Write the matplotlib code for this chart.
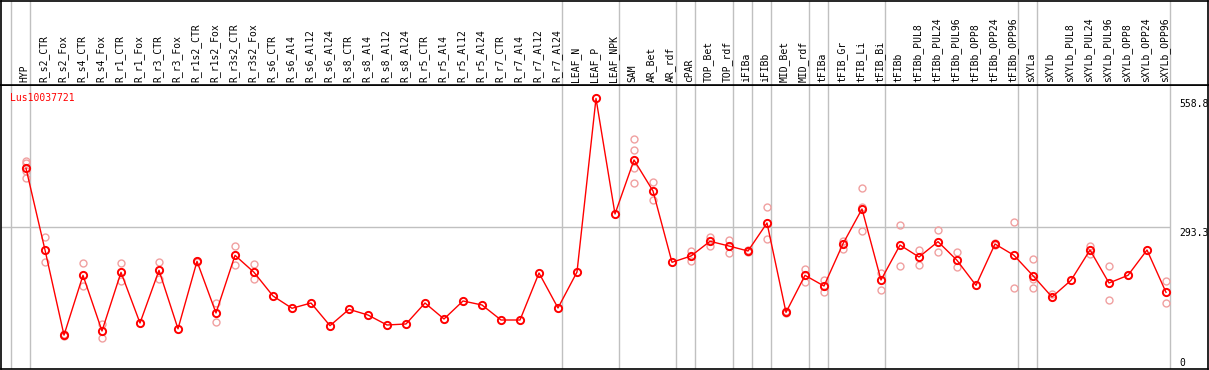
import matplotlib
matplotlib.use("Agg")
import matplotlib.pyplot as plt

# Muestras (columnas) del perfil de expresión
samples = ["HYP", "R_s2_CTR", "R_s2_Fox", "R_s4_CTR", "R_s4_Fox", "R_r1_CTR", "R_r1_Fox",
           "R_r3_CTR", "R_r3_Fox", "R_r1s2_CTR", "R_r1s2_Fox", "R_r3s2_CTR", "R_r3s2_Fox",
           "R_s6_CTR", "R_s6_Al4", "R_s6_Al12", "R_s6_Al24", "R_s8_CTR", "R_s8_Al4",
           "R_s8_Al12", "R_s8_Al24", "R_r5_CTR", "R_r5_Al4", "R_r5_Al12", "R_r5_Al24",
           "R_r7_CTR", "R_r7_Al4", "R_r7_Al12", "R_r7_Al24", "LEAF_N", "LEAF_P", "LEAF_NPK",
           "SAM", "AR_Bet", "AR_rdf", "cPAR", "TOP_Bet", "TOP_rdf", "iFIBa", "iFIBb",
           "MID_Bet", "MID_rdf", "tFIBa", "tFIB_Gr", "tFIB_Li", "tFIB_Bi", "tFIBb",
           "tFIBb_PUL8", "tFIBb_PUL24", "tFIBb_PUL96", "tFIBb_OPP8", "tFIBb_OPP24",
           "tFIBb_OPP96", "sXYLa", "sXYLb", "sXYLb_PUL8", "sXYLb_PUL24", "sXYLb_PUL96",
           "sXYLb_OPP8", "sXYLb_OPP24", "sXYLb_OPP96"]

# Valor medio por muestra
mean_vals = [414.5, 245.8, 70, 193.5, 78.5, 199.7, 95, 203.8, 83, 222.4, 115.7, 234.8, 199.7,
             150.8, 125.4, 136.3, 89.5, 123.3, 111.5, 90.9, 93, 136.3, 103.3, 140.5, 132.2,
             101.2, 101.2, 198.3, 126, 200.4, 558.8, 320.2,
             431.7, 367.7, 220.4, 233.4, 263.8, 254, 243.7, 301.6,
             117, 193.5, 171.4, 258.8, 330.5, 183.8, 256,
             231.3, 263, 224.5, 172.8, 258.2, 234.8, 192.7, 148.7, 183.2, 245.8, 177.6,
             193.5, 245.8, 158.4]

# Réplicas individuales (puntos claros)
rep_vals = [[430, 425, 410, 394], [272, 220], [68, 72], [218, 171], [92, 65], [218, 181], [],
            [221, 186.5], [], [224, 220], [135.7, 97], [254, 214], [217, 185],
            [], [], [], [], [], [], [], [], [], [], [], [],
            [], [], [], [], [], [], [],
            [474.4, 452.3, 415.8, 383.6], [385.6, 348.4], [], [243.7, 223], [272, 254.7],
            [265.8, 240], [245, 242], [334, 268],
            [119, 115], [206.5, 179], [183.8, 158.4], [265, 248.5], [373.9, 335.2, 284.4],
            [199, 163.2], [296.8, 212.7],
            [245.8, 214.2], [286.5, 241], [241, 210], [], [261, 256], [303, 166.7],
            [226.6, 186.5, 166.7], [154.3], [], [254.7, 237.5], [212.7, 142.5],
            [195], [], [181.8, 135.7]]

# Índices donde empieza cada grupo de muestras (separadores verticales)
group_starts = [0, 1, 29, 32, 35, 36, 38, 39, 40, 42, 43, 46, 53, 54, 61]
y_ticks = [0, 293.3, 558.8]
gene = "Lus10037721"

W, H = 1209, 370
mono = "DejaVu Sans Mono"
fs = 7

fig = plt.figure(figsize=(W / 100, H / 100), dpi=100)
ax = fig.add_axes([1 / W, 1 / H, 1207 / W, 284 / H])
ax_head = fig.add_axes([1 / W, 285 / H, 1207 / W, 84.5 / H], sharex=ax)

x = list(range(len(samples)))
x0, x1 = (1 - 26) / 19, (1208 - 26) / 19
ax.set_xlim(x0, x1)
ax.set_ylim(0, 2 * y_ticks[1])
ax_head.set_ylim(0, 1)

# Separadores de grupos y línea de referencia a media altura
off = 15 / 19
for g in group_starts:
    for a in (ax, ax_head):
        a.axvline(g - off, color="#c0c0c0", linewidth=1, zorder=1)
ax.hlines(y_ticks[1], x0, group_starts[-1] - off, color="#c0c0c0", linewidth=1, zorder=1)

# Réplicas
for i, reps in enumerate(rep_vals):
    if reps:
        ax.plot([i] * len(reps), reps, linestyle="none", marker="o", markersize=5,
                markerfacecolor="none", markeredgecolor="#f0a0a0", markeredgewidth=1, zorder=2)

# Media
ax.plot(x, mean_vals, color="red", linewidth=1, marker="o", markersize=5.2,
        markerfacecolor="none", markeredgecolor="red", markeredgewidth=1.4, zorder=3)

ax.text(9 / 1207, 0.955, gene, transform=ax.transAxes, color="red", fontsize=fs,
        family=mono, va="center", ha="left")

for v in y_ticks:
    va = "bottom" if v == 0 else "top"
    dy = 1 if v == 0 else -1
    ax.annotate(f"{v:g}", xy=(1, v), xycoords=("axes fraction", "data"),
                xytext=(-29, dy), textcoords="offset pixels", fontsize=fs, family=mono,
                va=va, ha="left")

for i, s in enumerate(samples):
    ax_head.text(i - 0.08, 0.03, s, rotation=90, ha="center", va="bottom",
                 fontsize=fs, family=mono)

for a in (ax, ax_head):
    a.set_xticks([])
    a.set_yticks([])
    for sp in a.spines.values():
        sp.set_linewidth(1.2)
        sp.set_color("black")

fig.savefig("out.png", dpi=100)
